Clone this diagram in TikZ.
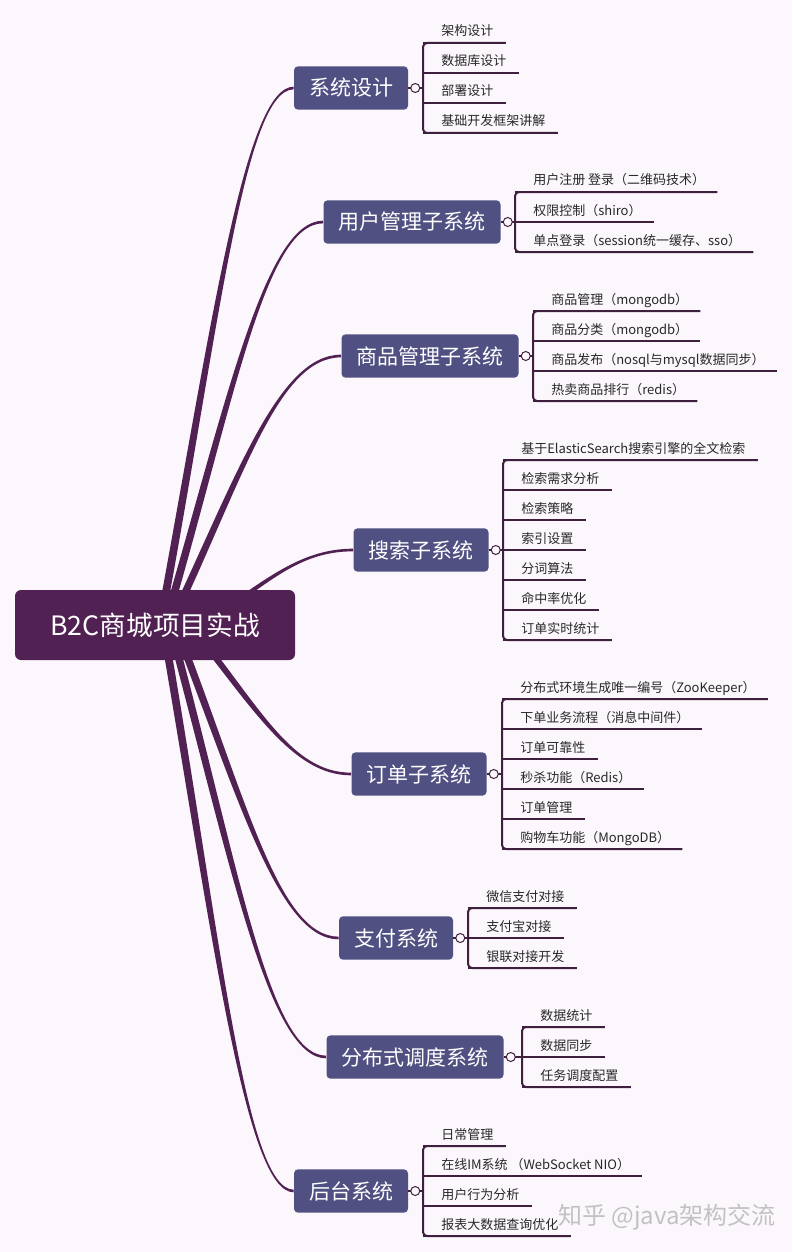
\documentclass[tikz,border=0pt]{standalone}
\usepackage{fontspec}
\setmainfont{Noto Sans CJK SC}
\usetikzlibrary{calc}
\definecolor{paper_pink}{RGB}{252,247,252}
\definecolor{hub_purple}{RGB}{82,33,84}
\definecolor{topic_blue}{RGB}{80,80,130}
\definecolor{twig_purple}{RGB}{62,32,62}
\definecolor{leaf_text}{RGB}{40,40,40}
\definecolor{stamp_gray}{RGB}{185,185,185}
\pgfdeclarelayer{bg}
\pgfsetlayers{bg,main}

% tapered curve from the centre box to a topic box
\newcommand{\limb}[3]{%
  \fill[limb] let \p1=($(b2c.center)+(#1,0)$), \p2=(#2.west) in
    (\x1-3pt,\y1)
    .. controls ({\x1+0.41*(\x2-\x1)-3pt},{\y1+0.55*(\y2-\y1)})
       and ({\x2-0.37*(\x2-\x1)},{\y2+(#3)*1pt}) .. (\x2,{\y2+(#3)*1pt})
    -- (\x2,{\y2-(#3)*1pt})
    .. controls ({\x2-0.37*(\x2-\x1)},{\y2-(#3)*1pt})
       and ({\x1+0.41*(\x2-\x1)+3pt},{\y1+0.55*(\y2-\y1)}) .. (\x1+3pt,\y1)
    -- cycle;}

% bracket with the sub topics of one topic
\newcommand{\leaves}[4]{%
  \foreach \t [count=\i] in {#4} {\xdef\nleaf{\i}}
  \coordinate (#1-hub) at (#2,#3);
  \draw[twig] (#1.east) -- (#1-hub);
  \node[knob] (#1-k) at ([xshift=5.25pt]#1.east) {};
  \foreach \t [count=\i] in {#4} {
    \pgfmathsetmacro\uy{#3+(\i-(\nleaf+1)/2)*30}
    \coordinate (#1-u\i) at (#2,\uy);
    \node[leafnote, anchor=base west] (#1-\i) at (#2+18,\uy-7) {\t};
    \draw[twig] (#1-u\i) -- ([xshift=9pt]#1-\i.east |- #1-u\i);
  }
  \draw[twig, rounded corners=3pt] ([xshift=9pt]#1-1.east |- #1-u1) -- (#1-u1)
    -- (#1-u\nleaf) -- ([xshift=9pt]#1-\nleaf.east |- #1-u\nleaf);
}

\begin{document}
\begin{tikzpicture}[x=0.75pt,y=-0.75pt]
    \tikzstyle{centre}=[fill=hub_purple, text=white, rounded corners=4.5pt, minimum width=210pt, minimum height=52.5pt, font=\fontsize{20pt}{24pt}\selectfont]
    \tikzstyle{topic}=[fill=topic_blue, text=white, rounded corners=3pt, inner xsep=11.25pt, inner ysep=0pt, minimum height=32.5pt, font=\fontsize{15.75pt}{18pt}\selectfont]
    \tikzstyle{leafnote}=[inner sep=0pt, text=leaf_text, font=\fontsize{9.75pt}{11pt}\selectfont]
    \tikzstyle{twig}=[draw=twig_purple, line width=1.5pt]
    \tikzstyle{knob}=[circle, draw=twig_purple, fill=paper_pink, line width=0.75pt, minimum size=6.75pt, inner sep=0pt]
    \tikzstyle{limb}=[fill=hub_purple]
    \tikzstyle{stamp}=[text=stamp_gray, opacity=0.85, inner sep=0pt, font=\fontsize{18pt}{20pt}\selectfont]

    \useasboundingbox (0,0) rectangle (792,1252);

    \node[centre] (b2c) at (155,625) {B2C商城项目实战};

    \node[topic] (sys)   at (351,88)   {系统设计};
    \node[topic] (user)  at (412,222)  {用户管理子系统};
    \node[topic] (goods) at (430,356)  {商品管理子系统};
    \node[topic] (find)  at (421,550)  {搜索子系统};
    \node[topic] (order) at (419,774)  {订单子系统};
    \node[topic] (pay)   at (396,938)  {支付系统};
    \node[topic] (sched) at (415,1057) {分布式调度系统};
    \node[topic] (admin) at (351,1191) {后台系统};

    \begin{pgfonlayer}{bg}
      \fill[paper_pink] (0,0) rectangle (792,1252);
      \limb{5}{sys}{1}
      \limb{10}{user}{1}
      \limb{15}{goods}{1}
      \limb{48}{find}{1}
      \limb{35}{order}{-1}
      \limb{20}{pay}{-1}
      \limb{15}{sched}{-1}
      \limb{8}{admin}{-1}
    \end{pgfonlayer}

    \leaves{sys}{423}{88}{架构设计, 数据库设计, 部署设计, 基础开发框架讲解}
    \leaves{user}{515}{222}{用户注册 登录（二维码技术）, 权限控制（shiro）, 单点登录（session统一缓存、sso）}
    \leaves{goods}{533}{356}{商品管理（mongodb）, 商品分类（mongodb）, 商品发布（nosql与mysql数据同步）, 热卖商品排行（redis）}
    \leaves{find}{503}{550}{基于ElasticSearch搜索引擎的全文检索, 检索需求分析, 检索策略, 索引设置, 分词算法, 命中率优化, 订单实时统计}
    \leaves{order}{502}{774}{分布式环境生成唯一编号（ZooKeeper）, 下单业务流程（消息中间件）, 订单可靠性, 秒杀功能（Redis）, 订单管理, 购物车功能（MongoDB）}
    \leaves{pay}{468}{938}{微信支付对接, 支付宝对接, 银联对接开发}
    \leaves{sched}{522}{1057}{数据统计, 数据同步, 任务调度配置}
    \leaves{admin}{423}{1191}{日常管理, 在线IM系统 （WebSocket NIO）, 用户行为分析, 报表大数据查询优化}

    \node[stamp, anchor=west] (zhihu) at (558,1217) {知乎 @java架构交流};
\end{tikzpicture}
\end{document}
